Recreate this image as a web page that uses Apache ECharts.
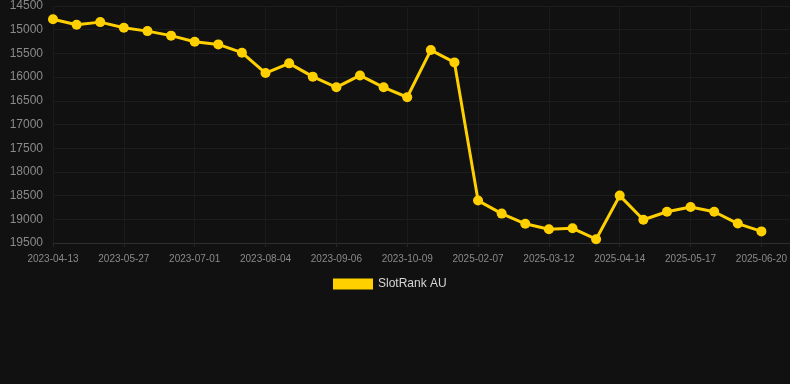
<!DOCTYPE html>
<html>
<head>
<meta charset="utf-8">
<script src="https://cdn.jsdelivr.net/npm/echarts@6/dist/echarts.min.js"></script>
<style>
html,body{margin:0;padding:0;background:#111111;}
#c{width:790px;height:384px;}
</style>
</head>
<body>
<div id="c"></div>
<script>
var categories = ['2023-04-13','2023-04-28','2023-05-12','2023-05-27','2023-06-08','2023-06-20','2023-07-01','2023-07-12','2023-07-23','2023-08-04','2023-08-15','2023-08-26','2023-09-06','2023-09-17','2023-09-28','2023-10-09','2023-10-20','2023-10-31','2025-02-07','2025-02-18','2025-03-01','2025-03-12','2025-03-23','2025-04-03','2025-04-14','2025-04-25','2025-05-06','2025-05-17','2025-05-28','2025-06-08','2025-06-20'];
var seriesName = 'SlotRank AU';
var rankValues = [14780,14895,14840,14960,15030,15125,15255,15310,15485,15915,15710,15990,16215,15965,16215,16425,15430,15690,18605,18880,19095,19210,19190,19420,18500,19010,18840,18740,18840,19090,19255];

var chart = echarts.init(document.getElementById('c'));
var points = rankValues.map(function(v,i){ return [i, v]; });
chart.setOption({
  backgroundColor: '#111111',
  animation: false,
  grid: {left: 53, right: 0, top: 6, bottom: 141},
  legend: {
    left: 328, top: 273,
    itemWidth: 40, itemHeight: 11, itemGap: 10,
    icon: 'rect',
    textStyle: {color: '#d6d6d6', fontSize: 12, fontFamily: 'Liberation Sans, Arial, sans-serif'},
    data: [seriesName]
  },
  xAxis: {
    type: 'value',
    min: 0, max: 31.2, interval: 3,
    axisLine: {show: true, lineStyle: {color: '#2e2e2e'}},
    axisTick: {show: true, length: 4, lineStyle: {color: '#262626'}},
    splitLine: {show: true, lineStyle: {color: '#1b1b1b'}},
    axisLabel: {
      color: '#8a8a8a', fontSize: 10, margin: 11,
      fontFamily: 'Liberation Sans, Arial, sans-serif',
      showMaxLabel: false,
      formatter: function(v){ return (Number.isInteger(v) && categories[v]) ? categories[v] : ''; }
    }
  },
  yAxis: {
    type: 'value',
    inverse: true,
    min: 14500, max: 19500, interval: 500,
    axisLine: {show: false},
    axisTick: {show: false},
    splitLine: {show: true, lineStyle: {color: '#1d1d1d'}},
    axisLabel: {color: '#8a8a8a', fontSize: 12, margin: 10, fontFamily: 'Liberation Sans, Arial, sans-serif',
      formatter: function(v){ return String(v); }}
  },
  series: [{
    name: seriesName,
    type: 'line',
    data: points,
    symbol: 'circle',
    symbolSize: 10,
    itemStyle: {color: '#ffd000'},
    lineStyle: {color: '#ffd000', width: 3}
  }]
});
</script>
</body>
</html>
